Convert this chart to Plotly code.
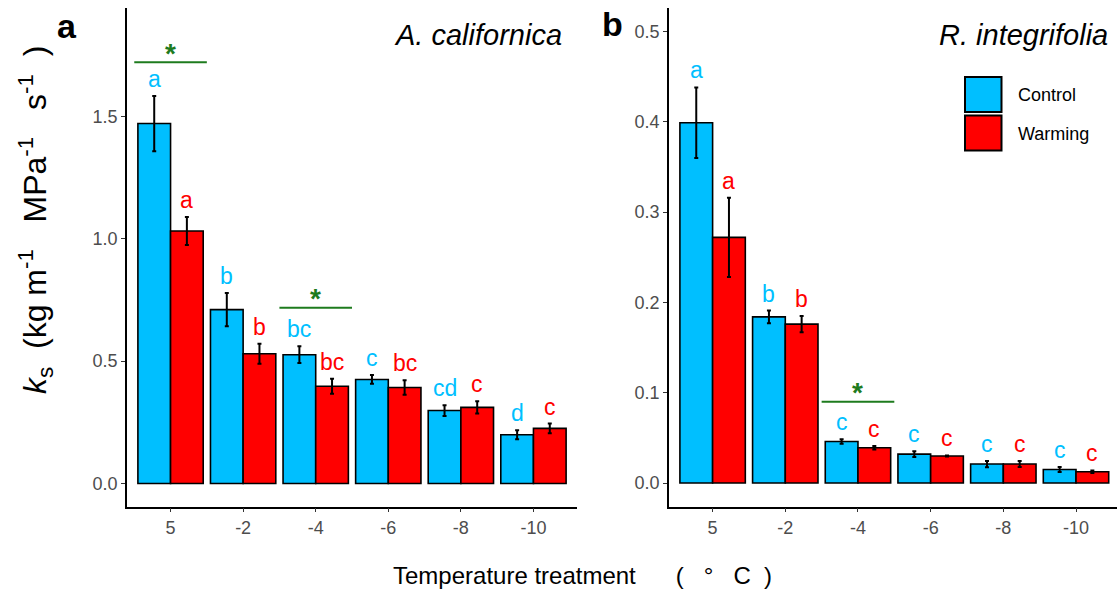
import plotly.graph_objects as go

# ---------------- data ----------------
temps = ["5", "-2", "-4", "-6", "-8", "-10"]

a_control = [1.470, 0.710, 0.526, 0.425, 0.298, 0.199]
a_control_se = [0.113, 0.068, 0.034, 0.018, 0.022, 0.018]
a_warming = [1.031, 0.530, 0.397, 0.392, 0.311, 0.225]
a_warming_se = [0.057, 0.041, 0.031, 0.030, 0.025, 0.020]
a_control_letters = ["a", "b", "bc", "c", "cd", "d"]
a_warming_letters = ["a", "b", "bc", "bc", "c", "c"]
a_sig_groups = [0, 2]
a_sig_heights = [1.72, 0.718]

b_control = [0.399, 0.184, 0.046, 0.032, 0.021, 0.015]
b_control_se = [0.039, 0.007, 0.0026, 0.0033, 0.0035, 0.0027]
b_warming = [0.272, 0.176, 0.039, 0.030, 0.021, 0.0125]
b_warming_se = [0.044, 0.009, 0.002, 0.0005, 0.0033, 0.0014]
b_control_letters = ["a", "b", "c", "c", "c", "c"]
b_warming_letters = ["a", "b", "c", "c", "c", "c"]
b_sig_groups = [2]
b_sig_heights = [0.090]

# ---------------- style ----------------
W, H = 1117, 595
BLUE = "#00BFFF"
RED = "#FF0000"
GREEN = "#1E7B1E"
FONT = "Arial, Liberation Sans, sans-serif"
NB = "&nbsp;"


def px(x):
    return x / W


def py(y):
    return 1 - y / H


xs = list(range(len(temps)))

fig = go.Figure()


def add_panel(xa, ya, ctrl, ctrl_se, warm, warm_se):
    for vals, se, col, name in [(ctrl, ctrl_se, BLUE, "Control"), (warm, warm_se, RED, "Warming")]:
        fig.add_trace(go.Bar(
            x=xs, y=vals, name=name, xaxis=xa, yaxis=ya,
            marker=dict(color=col, line=dict(color="black", width=1.6)),
            offsetgroup=name,
            error_y=dict(type="data", array=se, visible=True, color="black",
                         thickness=2, width=2),
            showlegend=False,
        ))


add_panel("x", "y", a_control, a_control_se, a_warming, a_warming_se)
add_panel("x2", "y2", b_control, b_control_se, b_warming, b_warming_se)

annotations = []
shapes = []


def letters(xref, yref, vals, se, labs, col, dx):
    for i, (v, s, t) in enumerate(zip(vals, se, labs)):
        annotations.append(dict(
            x=i + dx, y=v + s, xref=xref, yref=yref, text=t, showarrow=False,
            yanchor="middle", xanchor="center", yshift=17,
            font=dict(family=FONT, size=23, color=col)))


letters("x", "y", a_control, a_control_se, a_control_letters, BLUE, -0.225)
letters("x", "y", a_warming, a_warming_se, a_warming_letters, RED, 0.225)
letters("x2", "y2", b_control, b_control_se, b_control_letters, BLUE, -0.225)
letters("x2", "y2", b_warming, b_warming_se, b_warming_letters, RED, 0.225)


def sig(xref, yref, groups, heights):
    for g, h in zip(groups, heights):
        shapes.append(dict(type="line", xref=xref, yref=yref, x0=g - 0.5, x1=g + 0.5,
                           y0=h, y1=h, line=dict(color=GREEN, width=2)))
        annotations.append(dict(x=g, y=h, xref=xref, yref=yref, text="<b>*</b>",
                                showarrow=False, yanchor="middle", xanchor="center", yshift=9,
                                font=dict(family=FONT, size=28, color=GREEN)))


sig("x", "y", a_sig_groups, a_sig_heights)
sig("x2", "y2", b_sig_groups, b_sig_heights)


def ptext(x, y, text, size, xanchor="center", angle=0):
    annotations.append(dict(x=px(x), y=py(y), xref="paper", yref="paper", text=text,
                            showarrow=False, xanchor=xanchor, yanchor="middle",
                            textangle=angle, font=dict(family=FONT, size=size, color="black")))


ptext(67, 26, "<b>a</b>", 34)
ptext(612, 24, "<b>b</b>", 34)
ptext(564, 35, "<i>A. californica</i>", 29, xanchor="right")
ptext(1110, 35, "<i>R. integrifolia</i>", 29, xanchor="right")
ptext(391, 575,
      "Temperature treatment" + NB * 6 + "(" + NB * 3 + "°" + NB * 3 + "C" + NB * 2 + ")",
      24, xanchor="left")
ptext(35, 220,
      "<i>k</i><sub>s</sub>" + NB * 2 + "(kg m<sup>-1</sup>" + NB * 3 + "MPa<sup>-1</sup>" + NB * 3
      + "s<sup>-1</sup>" + NB * 2 + ")", 32, angle=-90)
ptext(1016, 95, "Control", 18, xanchor="left")
ptext(1016, 134, "Warming", 18, xanchor="left")

# legend swatches
for (y0, y1, col) in [(77, 112, BLUE), (115.5, 150.5, RED)]:
    shapes.append(dict(type="rect", xref="paper", yref="paper",
                       x0=px(965), x1=px(1001.5), y0=py(y1), y1=py(y0),
                       fillcolor=col, line=dict(color="black", width=2)))

axis_common = dict(showline=True, linecolor="black", linewidth=1.5, ticks="outside",
                   ticklen=4, tickwidth=1, tickcolor="#333333", showgrid=False,
                   zeroline=False, tickfont=dict(family=FONT, size=18, color="#4D4D4D"),
                   fixedrange=True)

ydom = [py(506.5), py(8)]

fig.update_layout(
    width=W, height=H,
    margin=dict(l=0, r=0, t=0, b=0),
    paper_bgcolor="white", plot_bgcolor="white",
    barmode="group", bargap=0.1, bargroupgap=0,
    showlegend=False,
    xaxis=dict(domain=[px(127), px(577)], range=[-0.6, 5.6], tickvals=xs, ticktext=temps,
               anchor="y", **axis_common),
    yaxis=dict(domain=ydom, range=[-0.094, 1.942], tickvals=[0, 0.5, 1.0, 1.5],
               ticktext=["0.0", "0.5", "1.0", "1.5"], anchor="x", **axis_common),
    xaxis2=dict(domain=[px(669), 1.0], range=[-0.6, 5.564], tickvals=xs, ticktext=temps,
                anchor="y2", **axis_common),
    yaxis2=dict(domain=ydom, range=[-0.026, 0.526], tickvals=[0, 0.1, 0.2, 0.3, 0.4, 0.5],
                ticktext=["0.0", "0.1", "0.2", "0.3", "0.4", "0.5"], anchor="x2", **axis_common),
    annotations=annotations,
    shapes=shapes,
)

fig.write_html("out.html")
